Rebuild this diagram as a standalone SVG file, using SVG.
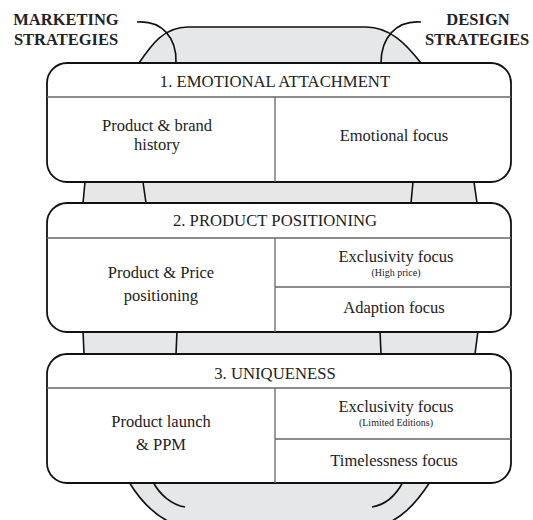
<svg xmlns="http://www.w3.org/2000/svg" width="533" height="520" viewBox="0 0 533 520">
<style>
.box{fill:#fff;stroke:#111;stroke-width:1.8}
.div{stroke:#666;stroke-width:1.3;fill:none}
.edge{fill:none;stroke:#111;stroke-width:1.6}
.t{font-family:"Liberation Serif","Times New Roman",serif;fill:#222;text-anchor:middle}
.h{font-size:16.7px}
.m{font-size:16.5px}
.s{font-size:10px}
.lbl{font-family:"Liberation Serif","Times New Roman",serif;font-weight:bold;font-size:16.5px;fill:#222;text-anchor:middle}
</style>
<g id="background">
<path d="M139,63 C152,44 164,27 188,27 L366,27 C390,27 406,44 421,63 L474,182 L477,203 L478,331 L475,354 L430,482 C415,505 400,520 380,526 L180,526 C160,520 143,505 129,482 L84,354 L83,331 L83,203 L85,182 Z" fill="#e6e7e8" stroke="#111" stroke-width="1.6"/>
</g>
<g id="connectors">
<path class="edge" d="M137,22 C162,20 177,38 176,63"/>
<path class="edge" d="M143,182 L146,203"/>
<path class="edge" d="M177,331 L176,354"/>
<path class="edge" d="M153,482 C160,495 172,505 185,507"/>
<path class="edge" d="M421,22 C396,20 381,38 381,63"/>
<path class="edge" d="M413,182 L411,203"/>
<path class="edge" d="M380,331 L381,354"/>
<path class="edge" d="M403,482 C396,495 385,505 372,507"/>
</g>
<g id="label-marketing">
<text class="lbl" x="66" y="25">MARKETING</text>
<text class="lbl" x="66" y="45">STRATEGIES</text>
</g>
<g id="label-design">
<text class="lbl" x="478" y="25">DESIGN</text>
<text class="lbl" x="477" y="45">STRATEGIES</text>
</g>
<g id="box1">
<rect class="box" x="47" y="63" width="464" height="119" rx="20"/>
<line class="div" x1="47" y1="97" x2="511" y2="97"/>
<line class="div" x1="275" y1="97" x2="275" y2="182"/>
<text class="t h" x="275" y="87">1. EMOTIONAL ATTACHMENT</text>
<text class="t m" x="157" y="131">Product &amp; brand</text>
<text class="t m" x="157" y="150">history</text>
<text class="t m" x="394" y="141">Emotional focus</text>
</g>
<g id="box2">
<rect class="box" x="47" y="203" width="464" height="129" rx="20"/>
<line class="div" x1="47" y1="238" x2="511" y2="238"/>
<line class="div" x1="275" y1="238" x2="275" y2="332"/>
<line class="div" x1="275" y1="287" x2="511" y2="287"/>
<text class="t h" x="275" y="226">2. PRODUCT POSITIONING</text>
<text class="t m" x="161" y="278">Product &amp; Price</text>
<text class="t m" x="161" y="301">positioning</text>
<text class="t m" x="396" y="262">Exclusivity focus</text>
<text class="t s" x="396" y="276">(High price)</text>
<text class="t m" x="394" y="313">Adaption focus</text>
</g>
<g id="box3">
<rect class="box" x="47" y="354" width="464" height="129" rx="20"/>
<line class="div" x1="47" y1="388" x2="511" y2="388"/>
<line class="div" x1="275" y1="388" x2="275" y2="483"/>
<line class="div" x1="275" y1="439" x2="511" y2="439"/>
<text class="t h" x="275" y="379">3. UNIQUENESS</text>
<text class="t m" x="161" y="427">Product launch</text>
<text class="t m" x="161" y="450">&amp; PPM</text>
<text class="t m" x="396" y="412">Exclusivity focus</text>
<text class="t s" x="396" y="426">(Limited Editions)</text>
<text class="t m" x="394" y="466">Timelessness focus</text>
</g>
</svg>
